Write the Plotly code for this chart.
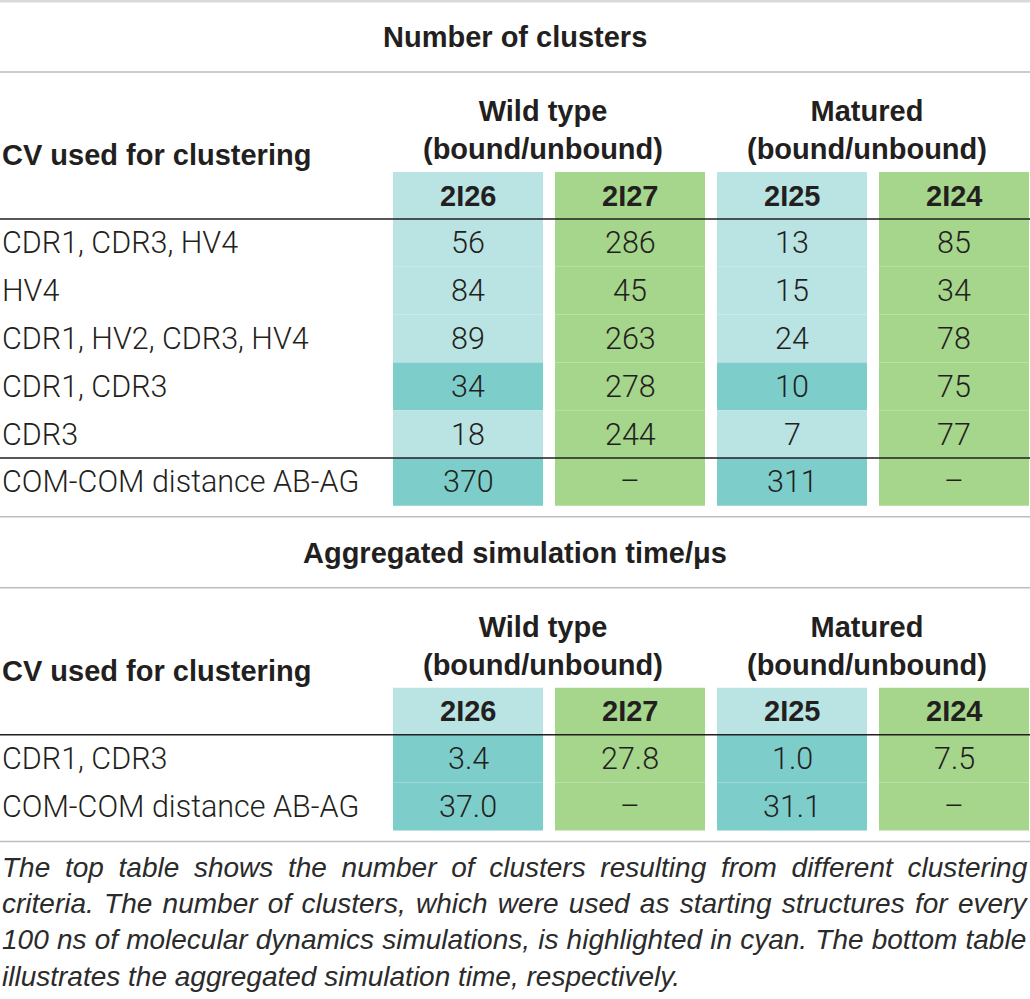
import plotly.graph_objects as go

# ---- data ----
structures = ["2I26", "2I27", "2I25", "2I24"]
groups = ["Wild type<br>(bound/unbound)", "Matured<br>(bound/unbound)"]
col_kind = ["cyan", "green", "cyan", "green"]

cv_clusters = ["CDR1, CDR3, HV4", "HV4", "CDR1, HV2, CDR3, HV4",
               "CDR1, CDR3", "CDR3", "COM-COM distance AB-AG"]
clusters_2I26 = [56, 84, 89, 34, 18, 370]
clusters_2I27 = [286, 45, 263, 278, 244, None]
clusters_2I25 = [13, 15, 24, 10, 7, 311]
clusters_2I24 = [85, 34, 78, 75, 77, None]
clusters_highlight = [False, False, False, True, False, True]

cv_time = ["CDR1, CDR3", "COM-COM distance AB-AG"]
time_2I26 = [3.4, 37.0]
time_2I27 = [27.8, None]
time_2I25 = [1.0, 31.1]
time_2I24 = [7.5, None]
time_highlight = [True, True]

caption_lines = [
    "The top table shows the number of clusters resulting from different clustering",
    "criteria. The number of clusters, which were used as starting structures for every",
    "100 ns of molecular dynamics simulations, is highlighted in cyan. The bottom table",
    "illustrates the aggregated simulation time, respectively.",
]
caption_word_gap = [6.9, 2.5, 0.4, 0]  # extra px per space (justified text)

# ---- styling ----
W, H = 1030, 999
LIGHT_CYAN = "#bae3e3"
DARK_CYAN = "#7dcdcb"
GREEN = "#a6d58c"
INK = "#231f20"
RULE_GREY = "#bdbdbd"
BOLD_FONT = dict(family="Liberation Sans, Arial, sans-serif", size=29, color=INK, weight="bold")
LIGHT_FONT = dict(family="Roboto, Liberation Sans, sans-serif", size=30.5, color=INK, weight=300)
CAP_FONT = dict(family="Liberation Sans, Arial, sans-serif", size=28, color="#2b2b2b",
                style="italic")

COL_LEFT = 393
COL_W = 150
COL_STEP = 162
HEAD_H = 47
ROW_H = 47.8

fig = go.Figure()
shapes = []
annotations = []


def hline(y, color, width):
    shapes.append(dict(type="line", xref="x", yref="y", x0=0, x1=W, y0=y, y1=y,
                       line=dict(color=color, width=width), layer="above"))


def text(x, y, s, font, xanchor="center", **kw):
    annotations.append(dict(x=x, y=y, xref="x", yref="y", text=s, showarrow=False,
                            xanchor=xanchor, yanchor="middle", font=font, **kw))


def fmt(v, decimals):
    if v is None:
        return "–"
    return f"{v:.{decimals}f}"


def draw_table(top, title, labels, columns, highlight, decimals, sep_last):
    text(W / 2, top + 37, title, BOLD_FONT)
    hline(top + 72, RULE_GREY, 1.5)
    for g, name in enumerate(groups):
        cx = COL_LEFT + (2 * g + 1) * COL_STEP - (COL_STEP - COL_W) / 2
        text(cx - 6, top + 130, name, BOLD_FONT)
    text(0, top + 155, "CV used for clustering", BOLD_FONT, xanchor="left")

    head_top = top + 172
    body_top = head_top + HEAD_H
    n = len(labels)
    for c, (name, vals) in enumerate(zip(structures, columns)):
        x0 = COL_LEFT + c * COL_STEP
        x1 = x0 + COL_W
        cx = (x0 + x1) / 2
        # header cell
        shapes.append(dict(type="rect", xref="x", yref="y", x0=x0, x1=x1,
                           y0=head_top, y1=body_top, line=dict(width=0), layer="below",
                           fillcolor=LIGHT_CYAN if col_kind[c] == "cyan" else GREEN))
        text(cx, head_top + HEAD_H / 2, name, BOLD_FONT)
        for r, v in enumerate(vals):
            y0 = body_top + r * ROW_H
            if col_kind[c] == "cyan":
                fill = DARK_CYAN if highlight[r] else LIGHT_CYAN
            else:
                fill = GREEN
            shapes.append(dict(type="rect", xref="x", yref="y", x0=x0, x1=x1,
                               y0=y0, y1=y0 + ROW_H, line=dict(width=0), layer="below",
                               fillcolor=fill))
            text(cx, y0 + ROW_H / 2, fmt(v, decimals), LIGHT_FONT)
    for r, lab in enumerate(labels):
        text(0, body_top + r * ROW_H + ROW_H / 2, lab, LIGHT_FONT, xanchor="left")

    hline(body_top, INK, 1.6)
    if sep_last:
        hline(body_top + (n - 1) * ROW_H, INK, 1.6)
    end = body_top + n * ROW_H + 11
    hline(end, RULE_GREY, 1.5)
    return end


# thin grey band at the very top
shapes.append(dict(type="rect", xref="x", yref="y", x0=0, x1=W, y0=0, y1=2.5,
                   line=dict(width=0), fillcolor="#d9d9d9"))

end1 = draw_table(0, "Number of clusters", cv_clusters,
                  [clusters_2I26, clusters_2I27, clusters_2I25, clusters_2I24],
                  clusters_highlight, 0, True)
end2 = draw_table(end1 - 1, "Aggregated simulation time/μs", cv_time,
                  [time_2I26, time_2I27, time_2I25, time_2I24],
                  time_highlight, 1, False)

for i, line in enumerate(caption_lines):
    s = f'<span style="word-spacing:{caption_word_gap[i]}px">{line}</span>'
    text(0, end2 + 26 + i * 36.2, s, CAP_FONT, xanchor="left")

fig.update_layout(
    width=W, height=H,
    margin=dict(l=0, r=0, t=0, b=0),
    paper_bgcolor="white", plot_bgcolor="white",
    xaxis=dict(range=[0, W], visible=False, fixedrange=True),
    yaxis=dict(range=[H, 0], visible=False, fixedrange=True),
    shapes=shapes, annotations=annotations,
    showlegend=False,
)

fig.write_html("out.html", config={"displayModeBar": False},
               post_script="document.body.style.margin='0';")
